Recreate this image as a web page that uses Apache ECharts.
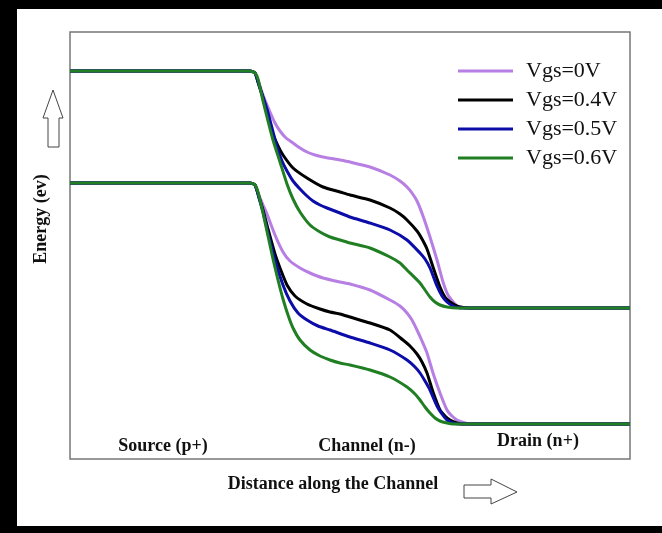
<!DOCTYPE html>
<html>
<head>
<meta charset="utf-8">
<script src="https://cdn.jsdelivr.net/npm/echarts@6/dist/echarts.min.js"></script>
<style>
html,body{margin:0;padding:0;background:#fff;overflow:hidden;}
#chart{width:662px;height:533px;}
</style>
</head>
<body>
<div id="chart"></div>
<script>
// Series names (legend)
const seriesNames = ['Vgs=0V', 'Vgs=0.4V', 'Vgs=0.5V', 'Vgs=0.6V'];
const seriesColors = ['#b77fe3', '#000000', '#0c0ca8', '#1f7f22'];

// Region labels along the channel
const regionLabels = ['Source (p+)', 'Channel (n-)', 'Drain (n+)'];
const xAxisTitle = 'Distance along the Channel';
const yAxisTitle = 'Energy (ev)';

// Upper band (conduction band) : [distance, energy]
const vgs0Upper = [[0,38.8],[18,38.8],[18.5,38.6],[18.8,37.9],[19.3,36.4],[20,34.7],[20.5,33.6],[21,32.8],[21.6,32.1],[22.3,31.6],[23,31.1],[23.7,30.7],[24.5,30.4],[25.3,30.2],[27,29.9],[28,29.7],[30,29.2],[32,28.4],[33,27.8],[33.7,27.2],[34.2,26.6],[34.7,25.8],[35.3,24.3],[36,22.2],[36.7,19.9],[37.3,17.7],[37.7,16.6],[38,16.1],[38.5,15.5],[39,15.2],[40,15.1],[56,15.1]];
const vgs04Upper = [[0,38.8],[18,38.8],[18.5,38.6],[18.8,37.7],[19.3,36.1],[19.8,34.2],[20.3,32.5],[20.8,31.3],[21.3,30.4],[22.3,29.1],[23.7,28.1],[25.3,27.2],[27,26.7],[28,26.4],[30,25.9],[32,25.1],[33,24.5],[33.7,23.9],[34.7,22.8],[35.2,22.0],[35.7,21.0],[36.3,19.2],[37,17.2],[37.5,16.2],[38,15.7],[38.5,15.4],[39,15.2],[40,15.1],[56,15.1]];
const vgs05Upper = [[0,38.8],[18,38.8],[18.5,38.6],[18.9,37.4],[19.3,36.2],[19.7,35.0],[20.2,33.1],[20.7,31.2],[21.2,29.8],[21.7,28.8],[22.3,27.8],[23,27.0],[23.7,26.3],[24.3,25.8],[25,25.4],[25.7,25.1],[27,24.6],[28,24.2],[30,23.6],[32,22.9],[33.7,21.9],[35,20.6],[35.5,20],[36,19.1],[36.7,17.3],[37.2,16.3],[37.7,15.7],[38.3,15.3],[39,15.1],[56,15.1]];
const vgs06Upper = [[0,38.8],[18,38.8],[18.5,38.6],[18.8,38.0],[19.3,35.8],[19.8,33.8],[20.3,31.9],[21,29.7],[21.7,27.5],[22.3,26.0],[23,24.7],[24,23.4],[25,22.7],[26,22.2],[27,21.9],[28,21.6],[30,21.1],[32,20.2],[33,19.6],[33.7,18.9],[35,17.6],[35.5,16.9],[36,16.2],[36.5,15.7],[37,15.4],[37.7,15.2],[38.7,15.1],[56,15.1]];

// Lower band (valence band) : [distance, energy]
const vgs0Lower = [[0,27.6],[18,27.6],[18.5,27.4],[18.8,26.6],[19.3,25.4],[19.7,24.5],[20.5,22.4],[21.3,20.7],[22,19.8],[23,19.1],[24,18.6],[25.3,18.1],[27,17.7],[28,17.5],[30,16.9],[32,15.9],[33,15.3],[33.7,14.6],[34.2,13.9],[34.7,12.9],[35.2,11.8],[35.7,10.6],[36.3,8.6],[37,6.6],[37.7,4.9],[38.2,4.3],[38.7,3.9],[39.5,3.6],[40,3.5],[56,3.5]];
const vgs04Lower = [[0,27.6],[18,27.6],[18.5,27.4],[18.9,26.2],[19.3,24.9],[19.8,23.0],[20.5,20.5],[21,19.1],[21.7,17.4],[22.5,16.3],[23.7,15.5],[25,15],[26,14.7],[27,14.5],[28,14.2],[30,13.6],[32,12.9],[33.3,11.9],[34,11.3],[34.7,10.5],[35.2,9.7],[35.7,8.6],[36.3,6.7],[37,4.9],[37.5,4.3],[38,3.9],[38.7,3.6],[39.3,3.5],[56,3.5]];
const vgs05Lower = [[0,27.6],[18,27.6],[18.5,27.4],[18.9,26.1],[19.3,24.7],[19.8,22.6],[20.5,19.9],[21.3,17.4],[22,15.8],[22.8,14.6],[23.7,13.9],[24.8,13.3],[26,12.9],[28,12.2],[30,11.6],[32,10.9],[33.7,9.9],[34.5,9.2],[35,8.6],[35.5,7.8],[36,6.9],[36.7,5.3],[37.2,4.5],[37.7,3.9],[38.3,3.6],[39,3.5],[56,3.5]];
const vgs06Lower = [[0,27.6],[18,27.6],[18.5,27.4],[18.8,26.7],[19.3,24.6],[19.8,22.3],[20.3,20],[20.8,17.9],[21.3,16.0],[21.8,14.4],[22.3,13.1],[23,11.9],[24,10.9],[25,10.3],[26,9.9],[27,9.6],[28,9.4],[30,8.9],[32,8.2],[33.7,7.2],[34.5,6.5],[35,5.9],[35.5,5.2],[36,4.6],[36.5,4.1],[37,3.8],[37.7,3.6],[38.3,3.5],[56,3.5]];

const upperBands = [vgs0Upper, vgs04Upper, vgs05Upper, vgs06Upper];
const lowerBands = [vgs0Lower, vgs04Lower, vgs05Lower, vgs06Lower];

const chart = echarts.init(document.getElementById('chart'), null, {renderer: 'canvas'});

const series = [];
seriesNames.forEach((name, i) => {
  [upperBands[i], lowerBands[i]].forEach(band => {
    series.push({
      name: name,
      type: 'line',
      data: band,
      showSymbol: false,
      symbol: 'none',
      smooth: 0.2,
      lineStyle: {color: seriesColors[i], width: 3, join: 'round', cap: 'butt'},
      itemStyle: {color: seriesColors[i]},
      z: 2 + i
    });
  });
});

const serifBold = 'bold 18px "Liberation Serif", "DejaVu Serif", serif';

const option = {
  animation: false,
  backgroundColor: '#ffffff',
  grid: {left: 70, top: 32, width: 560, height: 427, show: true, borderColor: '#777777', borderWidth: 1.5, backgroundColor: 'transparent'},
  xAxis: {type: 'value', min: 0, max: 56, show: false},
  yAxis: {type: 'value', min: 0, max: 42.7, show: false},
  legend: {
    data: seriesNames,
    orient: 'vertical',
    left: 453,
    top: 55,
    itemWidth: 55,
    itemHeight: 3,
    itemGap: 7,
    icon: 'rect',
    textStyle: {fontFamily: '"Liberation Serif", serif', fontSize: 22, color: '#111', lineHeight: 22, padding: [0, 0, 0, 8]}
  },
  series: series,
  graphic: [
    {type: 'rect', shape: {x: 0, y: 0, width: 662, height: 9}, style: {fill: '#000'}, silent: true},
    {type: 'rect', shape: {x: 0, y: 0, width: 17, height: 533}, style: {fill: '#000'}, silent: true},
    {type: 'rect', shape: {x: 0, y: 526, width: 662, height: 7}, style: {fill: '#000'}, silent: true},
    {type: 'polygon', shape: {points: [[53,90],[63,118],[59,118],[59,147],[48,147],[48,118],[43,118]]}, style: {fill: '#fff', stroke: '#444', lineWidth: 1}},
    {type: 'polygon', shape: {points: [[464,485],[491,485],[491,479],[517,492],[491,504],[491,498],[464,498]]}, style: {fill: '#fff', stroke: '#444', lineWidth: 1}},
    {type: 'text', x: 41, y: 219, rotation: Math.PI / 2, style: {text: yAxisTitle, font: serifBold, fill: '#111', textAlign: 'center', textVerticalAlign: 'middle'}},
    {type: 'text', x: 163, y: 446, style: {text: regionLabels[0], font: serifBold, fill: '#111', textAlign: 'center', textVerticalAlign: 'middle'}},
    {type: 'text', x: 367, y: 446, style: {text: regionLabels[1], font: serifBold, fill: '#111', textAlign: 'center', textVerticalAlign: 'middle'}},
    {type: 'text', x: 538, y: 441, style: {text: regionLabels[2], font: serifBold, fill: '#111', textAlign: 'center', textVerticalAlign: 'middle'}},
    {type: 'text', x: 333, y: 484, style: {text: xAxisTitle, font: serifBold, fill: '#111', textAlign: 'center', textVerticalAlign: 'middle'}}
  ]
};
chart.setOption(option);
</script>
</body>
</html>
